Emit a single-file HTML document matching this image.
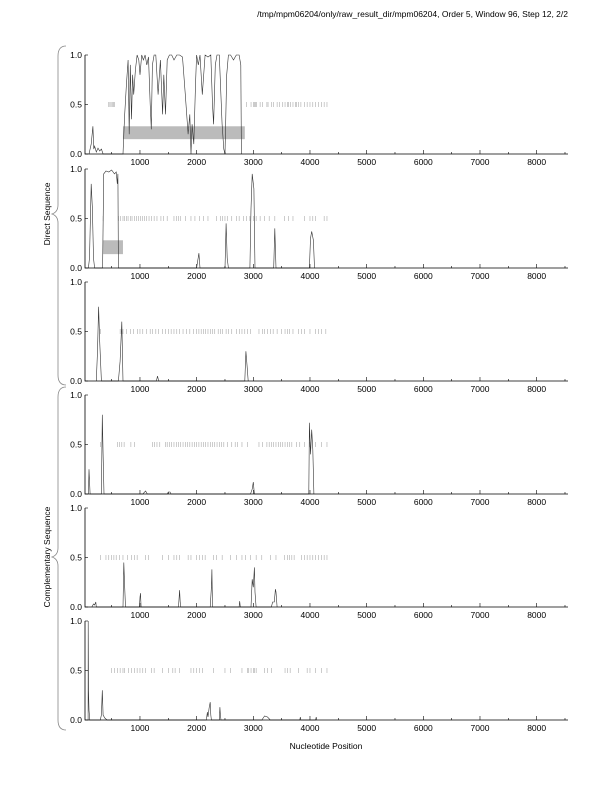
<!DOCTYPE html>
<html><head><meta charset="utf-8"><style>
body{margin:0;background:#fff}
svg{display:block;font-family:"Liberation Sans",sans-serif}
</style></head><body>
<svg id="c" width="612" height="792" viewBox="0 0 612 792">
<text x="568" y="17" font-size="8.5" text-anchor="end">/tmp/mpm06204/only/raw_result_dir/mpm06204, Order 5, Window 96, Step 12, 2/2</text>
<path d="M66,46 Q58,46 58,56 L58,205 Q58,212 52,214 Q58,216 58,223 L58,375 Q58,385 66,385" fill="none" stroke="#888" stroke-width="0.8"/>
<path d="M66,387 Q58,387 58,397 L58,548 Q58,555 52,557 Q58,559 58,566 L58,720 Q58,730 66,730" fill="none" stroke="#888" stroke-width="0.8"/>
<text transform="translate(50,214) rotate(-90)" font-size="8.5" text-anchor="middle">Direct Sequence</text>
<text transform="translate(50,557) rotate(-90)" font-size="8.5" text-anchor="middle">Complementary Sequence</text>
<text x="326" y="749" font-size="8.5" text-anchor="middle">Nucleotide Position</text>
<g id="plots"></g>
</svg>
<script>
const xTicks=[1000,2000,3000,4000,5000,6000,7000,8000];
const yTicks=[0,0.5,1];
const panelTops=[55,169,282,395,508,621];
const p1Pos=[100,140,170,185,200,230,260,290,320,350,700,715,730,760,790,810,830,850,870,890,920,950,980,1000,1030,1060,1090,1120,1150,1180,1200,1220,1250,1280,1320,1360,1400,1420,1450,1480,1520,1560,1600,1650,1700,1750,1800,1850,1880,1900,1920,1950,1980,2000,2030,2060,2100,2150,2200,2250,2280,2300,2330,2360,2400,2450,2480,2500,2530,2560,2600,2650,2700,2750,2780,2790];
const p1Val=[0,0.1,0.28,0.05,0.08,0.02,0.06,0.03,0.05,0,0,0.2,0.4,0.7,0.95,0.2,0.9,0.35,0.8,0.6,0.85,1,0.95,0.8,1,0.95,1,0.9,0.98,0.5,0.25,0.9,1,1,0.6,0.95,0.4,0.8,0.4,0.95,1,1,0.95,1,1,0.98,0.6,0.2,0.4,0,0.3,0.1,0.7,1,0.9,1,0.6,1,0.98,1,0.5,0.3,0.9,1,1,0.3,0.05,0,0.8,1,1,0.95,1,1,0.9,0];
const p2Pos=[90,110,140,160,180,200,340,360,400,450,500,550,580,600,610,620,2000,2040,2060,2500,2520,2540,2560,2940,2960,2980,3010,3030,3360,3380,3400,3990,4010,4030,4060,4080];
const p2Val=[0,0.1,0.85,0.6,0.1,0,0,0.95,0.98,0.97,0.99,0.95,0.97,0.85,0.95,0,0,0.15,0,0,0.45,0.1,0,0,0.6,0.95,0.8,0,0,0.4,0,0,0.3,0.37,0.28,0];
const p3Pos=[230,250,270,290,320,620,650,680,700,1290,1310,1330,2850,2870,2890,2910];
const p3Val=[0,0.3,0.75,0.4,0,0,0.2,0.6,0,0,0.05,0,0,0.3,0.15,0];
const p4Pos=[90,100,120,320,335,350,365,1050,1100,1130,1480,1500,1530,1550,2950,2980,3000,3020,3980,3990,4010,4030,4050,4070];
const p4Val=[0,0.25,0,0,0.8,0.4,0,0,0.03,0,0,0.02,0.02,0,0,0.05,0.12,0,0,0.72,0.4,0.65,0.45,0];
const p5Pos=[150,180,200,220,230,700,715,730,745,990,1000,1010,1020,1680,1700,1710,1720,2240,2260,2270,2280,2750,2760,2770,2960,2980,3000,3020,3030,3050,3320,3340,3370,3390,3400,3420];
const p5Val=[0,0.03,0.02,0.05,0,0,0.45,0.2,0,0,0.1,0.14,0,0,0.17,0.05,0,0,0.2,0.38,0,0,0.06,0,0,0.28,0.2,0.4,0.15,0,0,0.05,0.05,0.18,0.15,0];
const p6Pos=[85,87,92,100,115,300,320,335,350,380,420,2170,2190,2200,2220,2240,2250,2260,2270,2400,2410,2420,2430,3150,3200,3250,3300,3820,3830,3840,4100,4110,4120];
const p6Val=[0,1,0.3,0.1,0,0,0.05,0.3,0.05,0.02,0,0,0.08,0.03,0.12,0.18,0.05,0,0,0,0.13,0.05,0,0,0.04,0.03,0,0,0.03,0,0,0.03,0];
const seriesPos=[p1Pos,p2Pos,p3Pos,p4Pos,p5Pos,p6Pos];
const seriesVal=[p1Val,p2Val,p3Val,p4Val,p5Val,p6Val];
const stops1=[450,470,490,510,530,550,2880,2960,3000,3020,3040,3060,3120,3160,3240,3260,3320,3360,3420,3460,3520,3560,3600,3620,3660,3700,3740,3760,3800,3840,3900,3950,4000,4050,4100,4150,4200,4250,4300];
const stops2=[350,620,660,700,730,760,790,830,860,900,940,970,1010,1040,1080,1120,1160,1200,1250,1300,1370,1420,1480,1600,1640,1680,1720,1800,1900,1970,2050,2120,2200,2350,2420,2460,2500,2540,2620,2700,2750,2830,2880,2940,3000,3050,3120,3200,3280,3380,3550,3620,3700,3900,4000,4050,4100,4250,4300];
const stops3=[300,650,700,760,830,890,960,1000,1050,1120,1180,1220,1280,1330,1400,1450,1500,1550,1600,1650,1700,1760,1820,1880,1940,2000,2040,2080,2120,2160,2200,2240,2280,2320,2380,2420,2460,2520,2560,2620,2700,2760,2800,2850,2900,2950,3100,3160,3200,3250,3300,3350,3420,3500,3560,3600,3640,3700,3800,3850,3900,4000,4100,4150,4200,4280];
const stops4=[300,600,640,680,720,840,900,1220,1260,1300,1350,1450,1480,1520,1560,1600,1640,1680,1720,1760,1800,1840,1880,1920,1960,2000,2040,2080,2120,2160,2200,2240,2280,2320,2360,2400,2440,2480,2540,2620,2680,2720,2800,2900,3100,3160,3240,3280,3320,3360,3400,3440,3480,3520,3560,3600,3640,3680,3760,3820,3900,4000,4100,4200,4300];
const stops5=[300,400,450,500,540,580,640,700,780,850,900,950,1100,1150,1400,1500,1600,1650,1700,1850,1900,2000,2050,2100,2150,2300,2350,2450,2600,2700,2800,2860,2950,3050,3150,3300,3400,3550,3600,3640,3680,3720,3850,3900,3950,4000,4050,4100,4150,4200,4250,4300];
const stops6=[500,550,600,650,700,730,800,850,900,950,1000,1050,1100,1200,1250,1400,1500,1580,1620,1700,1900,1950,2000,2050,2100,2300,2500,2600,2800,2900,2920,2960,3000,3020,3050,3200,3250,3320,3560,3600,3650,3800,3950,4000,4100,4200,4300];
const stopsAll=[stops1,stops2,stops3,stops4,stops5,stops6];
const boxStart=[700,350,null,null,null,null];
const boxEnd=[2850,700,null,null,null,null];
const boxLow=[0.15,0.14];
const boxHigh=[0.28,0.28];
const NS='http://www.w3.org/2000/svg';
const X0=85,XR=568,PH=99;
function sx(v){return 83.3+v*0.05667;}
function mk(t,a,p){const e=document.createElementNS(NS,t);for(const k in a)e.setAttribute(k,a[k]);p.appendChild(e);return e;}
const root=document.getElementById('plots');
panelTops.forEach((top,i)=>{
  const sy=v=>top+PH-v*PH;
  const g=mk('g',{},root);
  
  
  if(boxStart[i]!=null){
    const r=mk('rect',{x:sx(boxStart[i]),y:sy(boxHigh[i]),width:sx(boxEnd[i])-sx(boxStart[i]),height:sy(boxLow[i])-sy(boxHigh[i]),fill:'#bbb'},g);
    
    
  }
  stopsAll[i].forEach(s=>{
    const l=mk('line',{x1:sx(s),x2:sx(s),y1:sy(0.5)-2.5,y2:sy(0.5)+2.5,stroke:'#999','stroke-width':0.5},g);
    
    
  });
  let d='';
  seriesPos[i].forEach((p,j)=>{d+=(j?'L':'M')+sx(p).toFixed(1)+','+sy(seriesVal[i][j]).toFixed(1);});
  const pth=mk('path',{d:d,fill:'none',stroke:'#333','stroke-width':0.6},g);
  
  
  const ax=mk('path',{d:`M${X0},${top}L${X0},${top+PH}L${XR},${top+PH}`,fill:'none',stroke:'#000','stroke-width':0.8},g);
  
  
  yTicks.forEach(v=>{
    mk('line',{x1:X0,x2:X0+3,y1:sy(v),y2:sy(v),stroke:'#000','stroke-width':0.6},g);
    const t=mk('text',{x:X0-3,y:sy(v)+3,'font-size':8.5,'text-anchor':'end'},g);
    t.textContent=v.toFixed(1);
    
    
  });
  for(let v=500;v<=8500;v+=500){
    mk('line',{x1:sx(v),x2:sx(v),y1:top+PH,y2:top+PH-(v%1000?2:4),stroke:'#000','stroke-width':0.6},g);
  }
  xTicks.forEach(v=>{
    const t=mk('text',{x:sx(v),y:top+PH+11,'font-size':8.5,'text-anchor':'middle'},g);
    t.textContent=v;
    
    
  });
});
</script>
</body></html>
